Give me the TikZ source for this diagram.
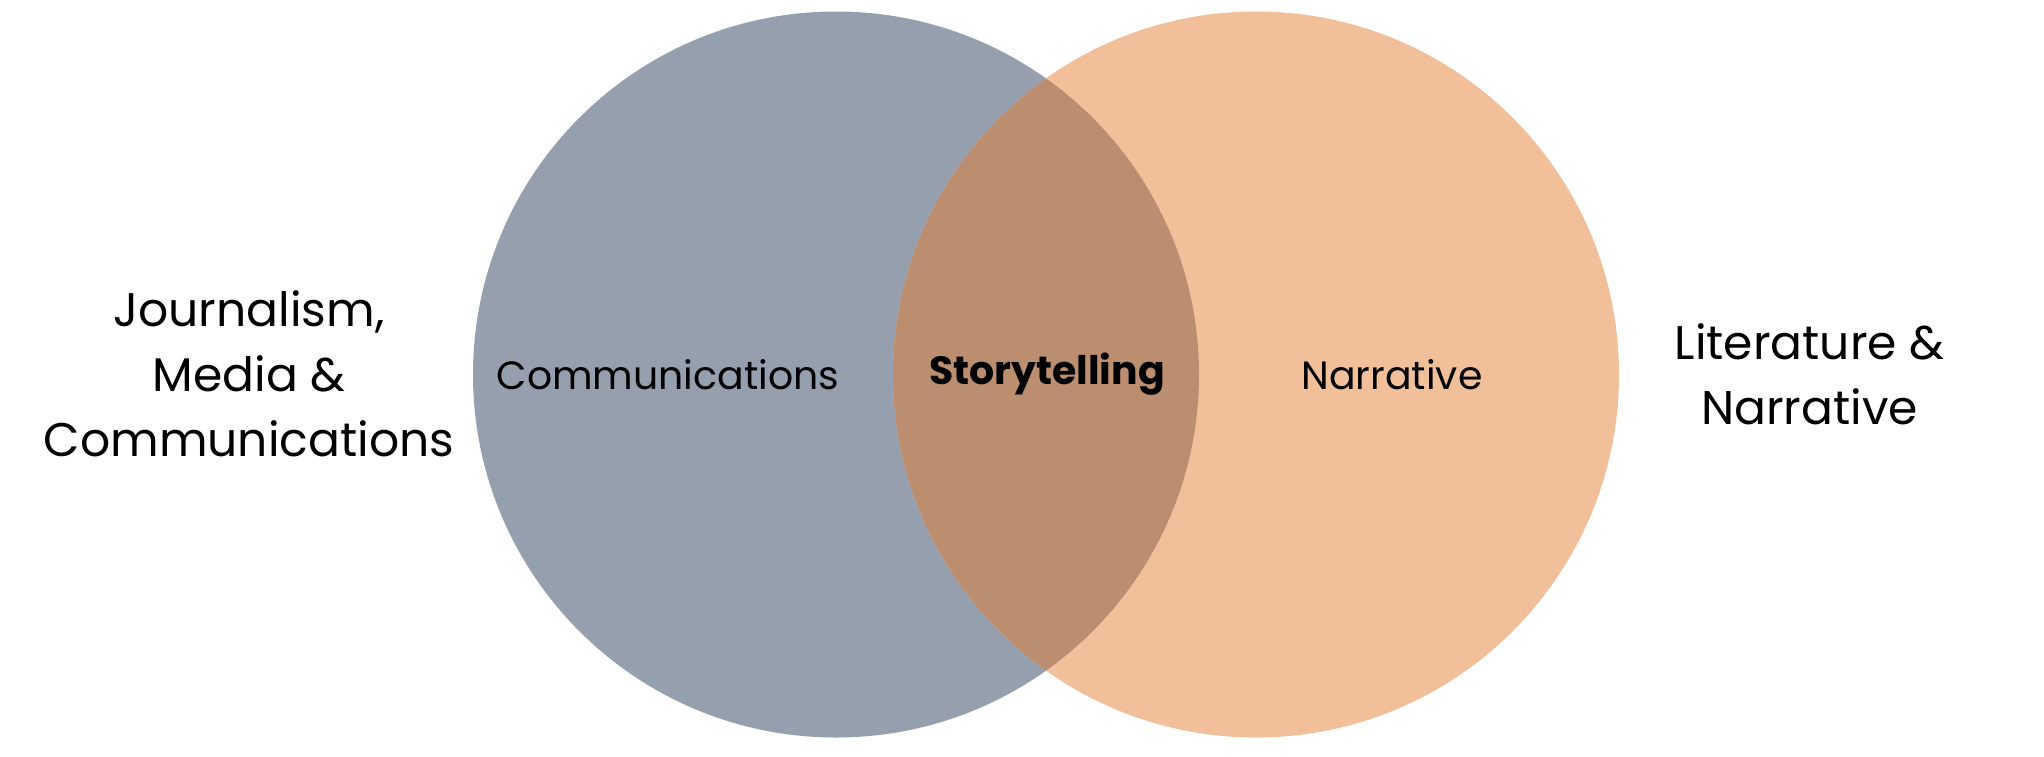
\documentclass[tikz,border=0pt]{standalone}
\usepackage{fontspec}
\setmainfont{Poppins}
\definecolor{commgray}{RGB}{150,159,173}
\definecolor{narrpeach}{RGB}{241,191,154}
\definecolor{overlapbrown}{RGB}{188,142,112}
\tikzset{
  venn/.style={circle, minimum size=363pt, inner sep=0pt, draw=none},
  inlabel/.style={font=\fontsize{19.7}{24}\selectfont, text=black},
  outlabel/.style={font=\fontsize{23.6}{32.5}\selectfont, align=center, text=black},
}
\begin{document}
\begin{tikzpicture}[x=0.5pt,y=-0.5pt]
\useasboundingbox[fill=white] (0,0) rectangle (2044,756);
\node[venn, fill=commgray] (left) at (836,374.5) {};
\node[venn, fill=narrpeach] (right) at (1256,374.5) {};
\begin{scope}
  \clip (836,374.5) circle (181.5pt);
  \fill[overlapbrown] (1256,374.5) circle (181.5pt);
\end{scope}
\node[inlabel] (comm) at (668,374.5) {Communications};
\node[inlabel, font=\fontsize{19.7}{24}\selectfont\bfseries] (story) at (1047,374.5) {Storytelling};
\node[inlabel] (narr) at (1392,374.5) {Narrative};
\node[outlabel] (jmc) at (249,373.5) {Journalism,\\Media \&\\Communications};
\node[outlabel] (lit) at (1809.5,374) {Literature \&\\Narrative};
\end{tikzpicture}
\end{document}
